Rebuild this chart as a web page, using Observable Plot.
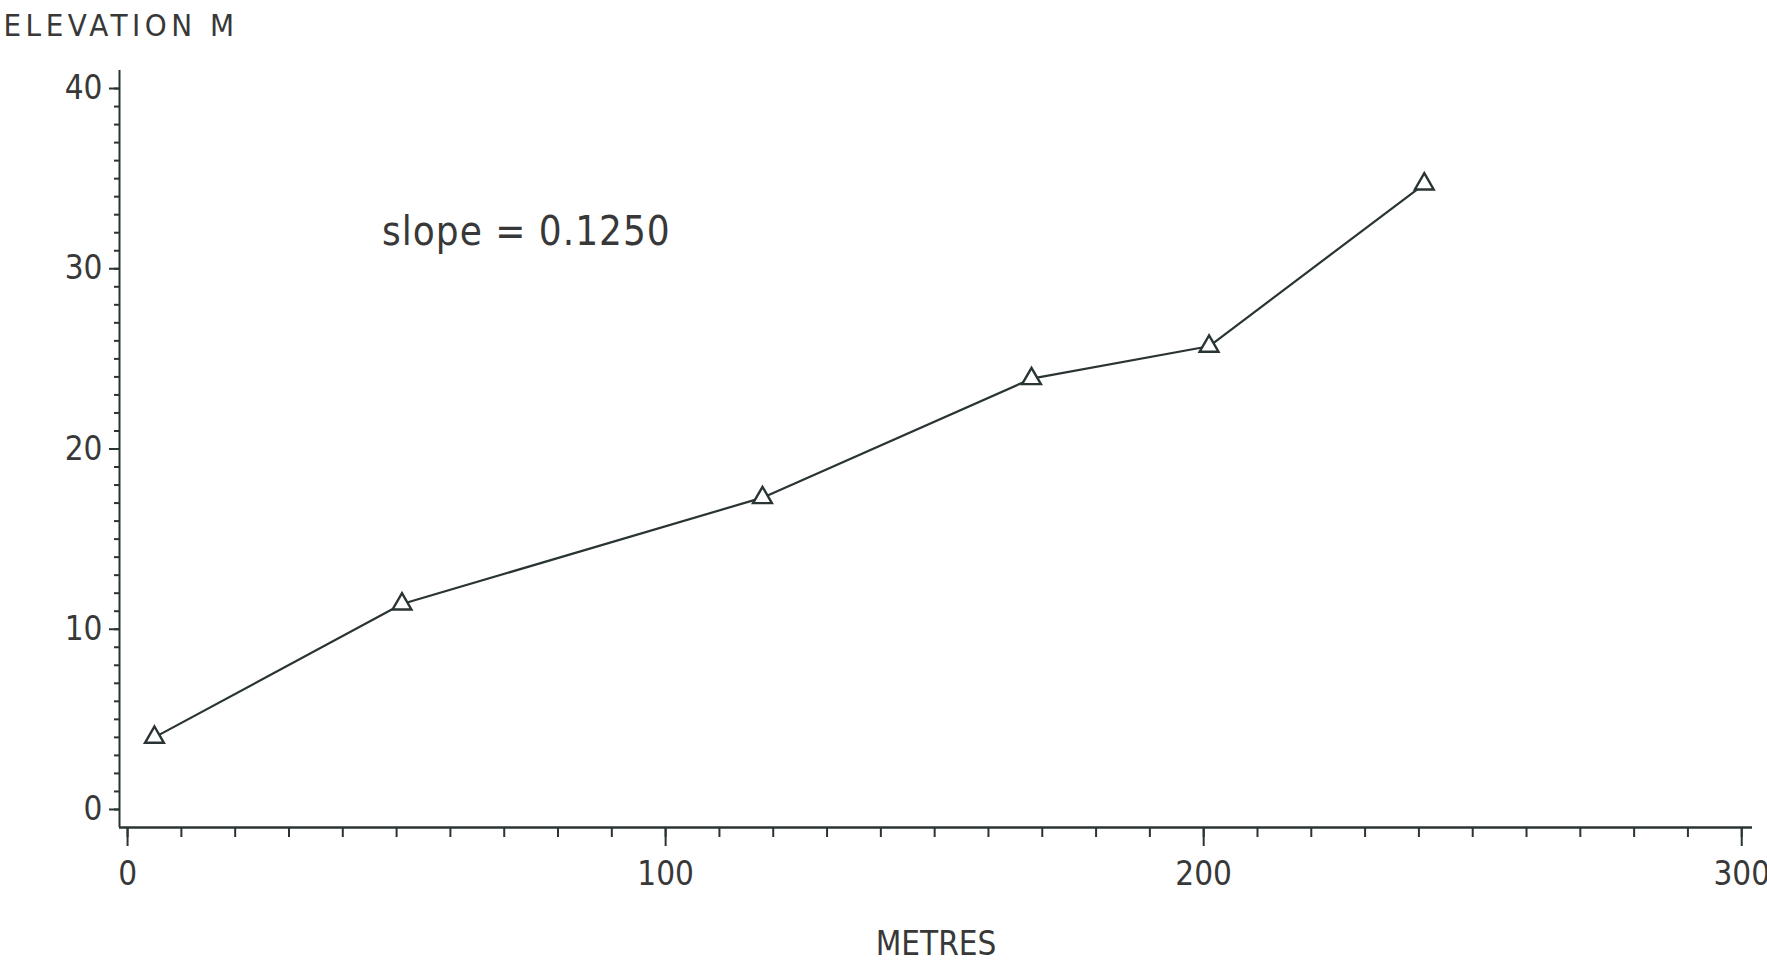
<!DOCTYPE html>
<html>
<head>
<meta charset="utf-8">
<script src="https://cdn.jsdelivr.net/npm/d3@7"></script>
<script src="https://cdn.jsdelivr.net/npm/@observablehq/plot@0.6"></script>
<style>
  html, body { margin: 0; padding: 0; background: #ffffff; }
  #chart svg { display: block; }
  text[aria-label="y-title"] { letter-spacing: 4.5px; }
  text[aria-label="slope-note"] { letter-spacing: 1px; }
</style>
</head>
<body>
<div id="chart"></div>
<script>
// ---- data ----
const distance  = [5, 51, 118, 168, 201, 241];          // METRES
const elevation = [4.0, 11.4, 17.3, 23.9, 25.7, 34.7];  // ELEVATION M
const xMajorTicks = [0, 100, 200, 300];
const xMinorTicks = d3.range(0, 301, 10);
const yMajorTicks = [0, 10, 20, 30, 40];
const yMinorTicks = d3.range(0, 41, 1);
const yTitle = "ELEVATION M";
const xTitle = "METRES";
const slopeNote = [{x: 47.3, y: 31.3, label: "slope = 0.1250"}];

const data = distance.map((d, i) => ({distance: d, elevation: elevation[i]}));
const ink = "#2a3434";
const textInk = "#383838";
const font = "'DejaVu Sans Condensed', 'Liberation Sans', sans-serif";

const chart = Plot.plot({
  width: 1767,
  height: 965,
  marginLeft: 119,
  marginRight: 15,
  marginTop: 70,
  marginBottom: 138,
  x: {domain: [-1.5, 302], axis: null, label: null},
  y: {domain: [-1, 41], axis: null, label: null},
  style: {fontFamily: font, color: textInk, background: "#ffffff", overflow: "visible"},
  marks: [
    Plot.ruleY([-1], {stroke: ink, strokeWidth: 2.5}),
    Plot.ruleX([-1.5], {stroke: ink, strokeWidth: 2}),
    Plot.axisX(xMinorTicks, {tickSize: 10, stroke: ink, strokeWidth: 2, fill: "none", label: null}),
    Plot.axisX(xMajorTicks, {tickSize: 19, tickPadding: 15, stroke: ink, strokeWidth: 2, fontSize: 33, fill: textInk, tickFormat: d => String(d), label: null}),
    Plot.axisY(yMinorTicks, {tickSize: 5, stroke: ink, strokeWidth: 2, fill: "none", label: null}),
    Plot.axisY(yMajorTicks, {tickSize: 10, tickPadding: 7, stroke: ink, strokeWidth: 2, fontSize: 33, fill: textInk, tickFormat: d => String(d), label: null}),
    Plot.line(data, {x: "distance", y: "elevation", stroke: ink, strokeWidth: 2.2}),
    Plot.dot(data, {x: "distance", y: "elevation", symbol: "triangle", r: 7, stroke: ink, strokeWidth: 2.4, fill: "#ffffff"}),
    Plot.text(slopeNote, {x: "x", y: "y", text: "label", textAnchor: "start", lineAnchor: "bottom", fontSize: 40, fill: textInk, ariaLabel: () => "slope-note"}),
    Plot.text([yTitle], {text: d => d, frameAnchor: "top-left", dx: -116, dy: -57, textAnchor: "start", lineAnchor: "top", fontSize: 31, fill: textInk, ariaLabel: () => "y-title"}),
    Plot.text([xTitle], {text: d => d, frameAnchor: "bottom", dy: 104, lineAnchor: "top", fontSize: 33, fill: textInk})
  ]
});
document.getElementById("chart").appendChild(chart);
</script>
</body>
</html>
